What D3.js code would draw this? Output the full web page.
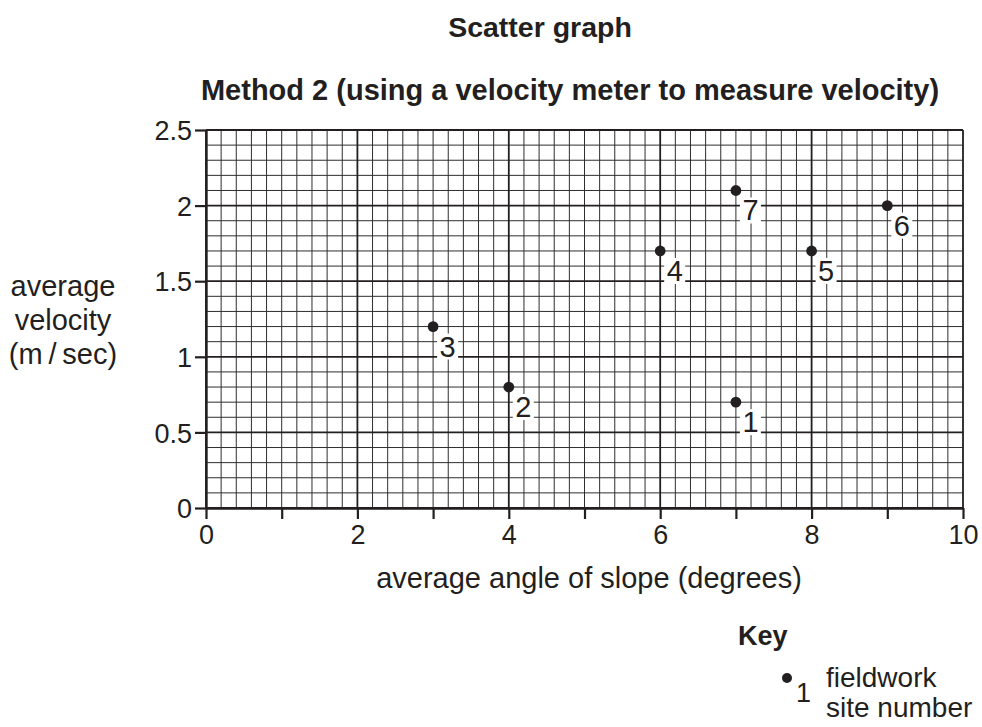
<!DOCTYPE html>
<html>
<head>
<meta charset="utf-8">
<script src="https://cdn.jsdelivr.net/npm/d3@7"></script>
<style>
  html, body { margin: 0; padding: 0; background: #fff; }
  svg { display: block; font-family: "Liberation Sans", Arial, Helvetica, sans-serif; }
</style>
</head>
<body>
<svg id="chart" width="982" height="727"></svg>
<script>
// ---- data ----
const siteNumbers = [1, 2, 3, 4, 5, 6, 7];
const slopeAngle = [7, 4, 3, 6, 8, 9, 7];          // degrees
const velocity   = [0.7, 0.8, 1.2, 1.7, 1.7, 2.0, 2.1]; // m/sec
const xTickValues = [0, 1, 2, 3, 4, 5, 6, 7, 8, 9, 10];
const xTickLabels = ["0", "", "2", "", "4", "", "6", "", "8", "", "10"];
const yTickValues = [0, 0.5, 1, 1.5, 2, 2.5];
const yTickLabels = ["0", "0.5", "1", "1.5", "2", "2.5"];
const titleText = "Scatter graph";
const subtitleText = "Method 2 (using a velocity meter to measure velocity)";
const xTitle = "average angle of slope (degrees)";
const yTitleLines = ["average", "velocity", "(m\u2009/\u2009sec)"];

// ---- layout ----
const svg = d3.select("#chart");
const x = d3.scaleLinear().domain([0, 10]).range([206, 963]);
const y = d3.scaleLinear().domain([0, 2.5]).range([508, 130]);

const ink = "#231f20";

// grid
const grid = svg.append("g");
const minorX = d3.range(0, 51).map(i => i * 0.2);
const minorY = d3.range(0, 26).map(i => i * 0.1);
const isMajorX = v => Math.abs(v / 2 - Math.round(v / 2)) < 1e-6;
const isMajorY = v => Math.abs(v / 0.5 - Math.round(v / 0.5)) < 1e-6;

grid.selectAll("line.vx").data(minorX.filter(v => !isMajorX(v))).join("line")
  .attr("x1", d => x(d)).attr("x2", d => x(d))
  .attr("y1", y(0)).attr("y2", y(2.5))
  .attr("stroke", "#2e2e2e").attr("stroke-width", 1);
grid.selectAll("line.hy").data(minorY.filter(v => !isMajorY(v))).join("line")
  .attr("y1", d => y(d)).attr("y2", d => y(d))
  .attr("x1", x(0)).attr("x2", x(10))
  .attr("stroke", "#2e2e2e").attr("stroke-width", 1);
grid.selectAll("line.mx").data(minorX.filter(isMajorX)).join("line")
  .attr("x1", d => x(d)).attr("x2", d => x(d))
  .attr("y1", y(0)).attr("y2", y(2.5))
  .attr("stroke", ink).attr("stroke-width", 1.8);
grid.selectAll("line.my").data(minorY.filter(isMajorY)).join("line")
  .attr("y1", d => y(d)).attr("y2", d => y(d))
  .attr("x1", x(0)).attr("x2", x(10))
  .attr("stroke", ink).attr("stroke-width", 1.8);

// axes
const xAxis = d3.axisBottom(x).tickValues(xTickValues)
  .tickFormat((d, i) => xTickLabels[i]).tickSize(11).tickSizeOuter(0).tickPadding(6);
const gx = svg.append("g").attr("transform", `translate(0,${y(0)})`).call(xAxis);
gx.select(".domain").attr("stroke", ink).attr("stroke-width", 2.4);
gx.selectAll(".tick line").attr("stroke", ink).attr("stroke-width", 2.2);
gx.selectAll(".tick text").attr("fill", ink).attr("font-size", 27).attr("font-family", null);

const yAxis = d3.axisLeft(y).tickValues(yTickValues)
  .tickFormat((d, i) => yTickLabels[i]).tickSize(11).tickSizeOuter(0).tickPadding(3);
const gy = svg.append("g").attr("transform", `translate(${x(0)},0)`).call(yAxis);
gy.select(".domain").attr("stroke", ink).attr("stroke-width", 2.4);
gy.selectAll(".tick line").attr("stroke", ink).attr("stroke-width", 2.2);
gy.selectAll(".tick text").attr("fill", ink).attr("font-size", 27).attr("font-family", null)
  .attr("dy", "0.36em");

// points
const pts = siteNumbers.map((s, i) => ({ s, a: slopeAngle[i], v: velocity[i] }));
const pg = svg.append("g");
const lab = pg.selectAll("g.lab").data(pts).join("g")
  .attr("transform", d => `translate(${x(d.a)},${y(d.v)})`);
lab.append("rect").attr("x", 4).attr("y", 7).attr("width", 21).attr("height", 26).attr("fill", "#fff");
lab.append("text").attr("x", 6.5).attr("y", 30).text(d => d.s)
  .attr("font-size", 29).attr("fill", ink);
lab.append("circle").attr("r", 5.4).attr("fill", ink);

// titles
svg.append("text").attr("x", 540).attr("y", 37).attr("text-anchor", "middle")
  .attr("font-size", 28.5).attr("font-weight", "bold").attr("fill", ink).text(titleText);
svg.append("text").attr("x", 570).attr("y", 100).attr("text-anchor", "middle")
  .attr("font-size", 29).attr("font-weight", "bold").attr("fill", ink).text(subtitleText);
svg.append("text").attr("x", 589).attr("y", 588).attr("text-anchor", "middle")
  .attr("font-size", 29).attr("fill", ink).text(xTitle);
svg.append("g").selectAll("text").data(yTitleLines).join("text")
  .attr("x", 63).attr("y", (d, i) => 296 + i * 34).attr("text-anchor", "middle")
  .attr("font-size", 29).attr("fill", ink).text(d => d);

// key
const key = svg.append("g");
key.append("text").attr("x", 738).attr("y", 645).attr("font-size", 27)
  .attr("font-weight", "bold").attr("fill", ink).text("Key");
key.append("circle").attr("cx", 787).attr("cy", 678).attr("r", 5).attr("fill", ink);
key.append("text").attr("x", 796).attr("y", 702).attr("font-size", 27).attr("fill", ink).text("1");
key.append("text").attr("x", 826).attr("y", 687).attr("font-size", 28).attr("fill", ink).text("fieldwork");
key.append("text").attr("x", 826).attr("y", 717).attr("font-size", 28).attr("fill", ink).text("site number");
</script>
</body>
</html>
